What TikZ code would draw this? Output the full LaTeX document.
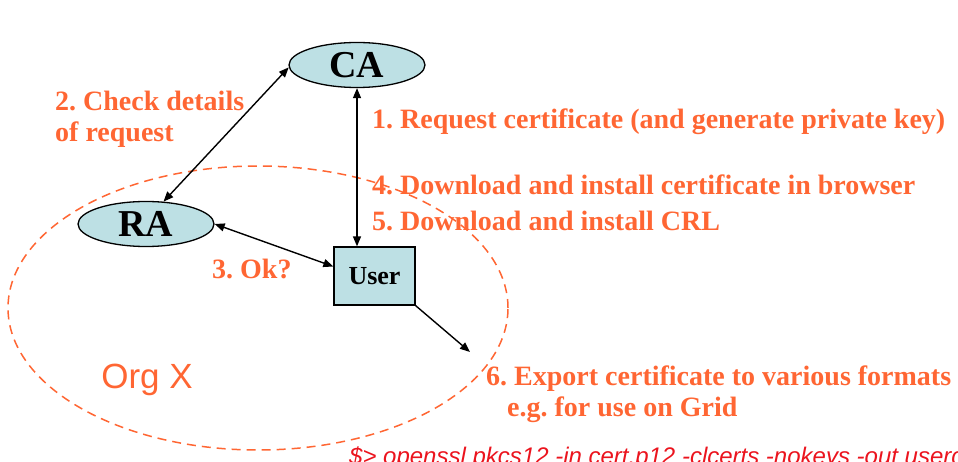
\documentclass[tikz,border=0pt]{standalone}
\usepackage{fontspec}
\setmainfont{Liberation Serif}
\newfontfamily\labsans{Liberation Sans}
\usetikzlibrary{shapes.geometric,arrows.meta}
\definecolor{orgorange}{RGB}{255,102,51}
\definecolor{nodeblue}{RGB}{189,224,228}
\definecolor{cmdred}{RGB}{235,20,30}
\frenchspacing
\tikzset{
  ent/.style={ellipse,draw=black,line width=1.3pt,fill=nodeblue,inner sep=0pt,
    minimum width=136pt,minimum height=45pt,font=\fontsize{38}{40}\selectfont\bfseries},
  userbox/.style={rectangle,draw=black,line width=1.3pt,fill=nodeblue,inner sep=0pt,
    minimum width=81pt,minimum height=58pt,font=\fontsize{26}{28}\selectfont\bfseries},
  lab/.style={anchor=base west,inner sep=0pt,text=orgorange,font=\fontsize{28}{31}\selectfont\bfseries},
  conn/.style={line width=1.4pt,draw=black,{Triangle[length=10pt,width=8pt]}-{Triangle[length=10pt,width=8pt]}},
  oneway/.style={line width=1.4pt,draw=black,-{Triangle[length=10pt,width=8pt]}},
  org/.style={ellipse,draw=orgorange,line width=1.5pt,dash pattern=on 9pt off 6pt,
    minimum width=500pt,minimum height=284pt,inner sep=0pt}
}
\begin{document}
\begin{tikzpicture}[x=1pt,y=-1pt]
\useasboundingbox (0,0) rectangle (958,462);
\clip (0,0) rectangle (958,462);
\node[org] (orgx) at (258,308) {};
\node[anchor=center,inner sep=0pt,text=orgorange,font=\labsans\fontsize{35}{38}\selectfont] (orgname) at (147,380) {Org X};
\node[ent] (CA) at (357,65) {CA};
\node[ent] (RA) at (146,224) {RA};
\node[userbox] (User) at (374.5,276) {User};
\coordinate (exp) at (470,352);
\draw[conn] (CA.182) -- (RA.52);
\draw[conn] (CA.south) -- (CA.south |- User.north);
\draw[conn] (RA.east) -- (User.167);
\draw[oneway] (User.south east) -- (exp);
\node[lab] (l2a) at (55,111) {2. Check details};
\node[lab] (l2b) at (55,142) {of request};
\node[lab] (l1) at (372,129) {1. Request certificate (and generate private key)};
\node[lab] (l4) at (372,195) {4. Download and install certificate in browser};
\node[lab] (l5) at (372,231) {5. Download and install CRL};
\node[lab] (l3) at (212,279) {3. Ok?};
\node[lab] (l6a) at (486,385) {6. Export certificate to various formats};
\node[lab] (l6b) at (507,416) {e.g. for use on Grid};
\node[anchor=base west,inner sep=0pt,text=cmdred,font=\labsans\itshape\fontsize{24}{26}\selectfont] (cmd) at (349,464) {\$> openssl pkcs12 -in cert.p12 -clcerts -nokeys -out usercert.pem};
\end{tikzpicture}
\end{document}
